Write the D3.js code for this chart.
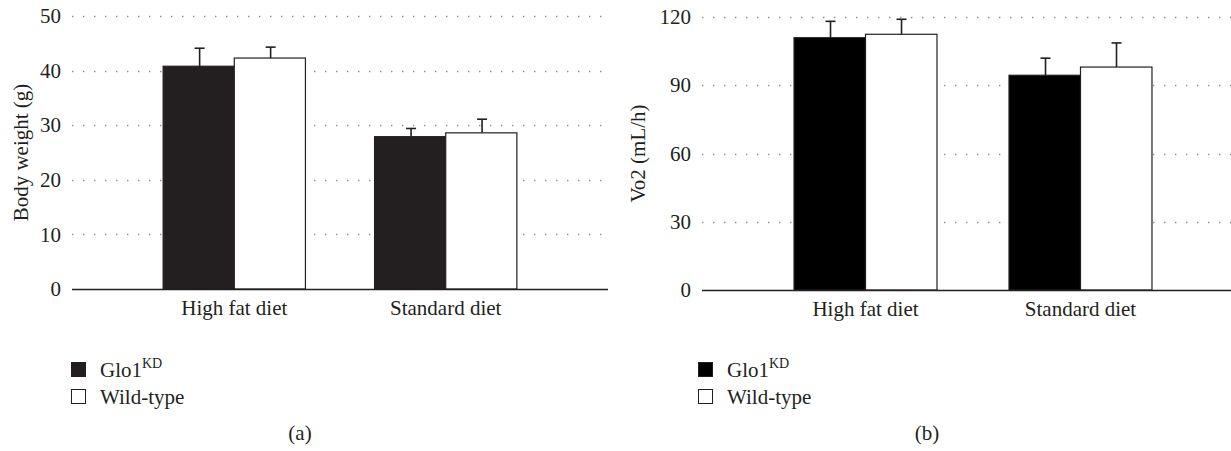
<!DOCTYPE html>
<html>
<head>
<meta charset="utf-8">
<script src="https://cdn.jsdelivr.net/npm/d3@7"></script>
<style>
  body { margin: 0; background: #fff; }
  svg { display: block; }
  text { font-family: "Liberation Serif", "DejaVu Serif", serif; fill: #231f20; }
</style>
</head>
<body>
<svg id="chart" width="1231" height="451"></svg>
<script>
// ---- data ----
const categories = ['High fat diet', 'Standard diet']
const groups = ['Glo1KD', 'Wild-type']

// (a) body weight, g
const weightGlo1 = [40.8, 27.9]
const weightGlo1Err = [3.3, 1.5]
const weightWT = [42.3, 28.6]
const weightWTErr = [2.0, 2.5]
const weightTicks = [0, 10, 20, 30, 40, 50]

// (b) VO2, mL/h
const vo2Glo1 = [110.9, 94.4]
const vo2Glo1Err = [7.2, 7.5]
const vo2WT = [112.4, 98.0]
const vo2WTErr = [6.6, 10.6]
const vo2Ticks = [0, 30, 60, 90, 120]

const FONT = 21
const svg = d3.select('#chart')

function drawPanel(opts) {
    const { x0, x1, yZero, yTop, max, ticks, values, errors, title, fill, letter, legendX, captionX } = opts

    const g = svg.append('g')

    const x = d3.scaleBand()
        .domain(categories)
        .range([x0, x1])
        .paddingInner(opts.padIn)
        .paddingOuter(opts.padOut)

    const xSub = d3.scaleBand()
        .domain(groups)
        .range([0, x.bandwidth()])

    const y = d3.scaleLinear()
        .domain([0, max])
        .range([yZero, yTop])

    const colors = { 'Glo1KD': fill, 'Wild-type': '#ffffff' }

    // dotted grid
    g.append('g')
        .selectAll('line')
        .data(ticks.filter(t => t > 0))
        .join('line')
        .attr('x1', x0)
        .attr('x2', x1)
        .attr('y1', d => Math.round(y(d)) + 0.5)
        .attr('y2', d => Math.round(y(d)) + 0.5)
        .attr('stroke', '#8f8f8f')
        .attr('stroke-width', 1.4)
        .attr('stroke-dasharray', '1.4,9.6')

    // y axis (labels only, no line)
    const yAxis = d3.axisLeft(y).tickValues(ticks).tickSize(0).tickPadding(11)
    const ya = g.append('g')
        .attr('transform', `translate(${x0}, 0)`)
        .call(yAxis)
    ya.select('.domain').remove()
    ya.selectAll('text')
        .style('font-family', '"Liberation Serif", serif')
        .style('font-size', FONT + 'px')
        .attr('fill', '#231f20')

    // bars
    const rows = categories.map((c, i) => groups.map((k, j) => ({
        cat: c, key: k, v: values[j][i], e: errors[j][i]
    })))

    const cat = g.selectAll('.cat')
        .data(rows)
        .join('g')
        .attr('class', 'cat')
        .attr('transform', (d, i) => `translate(${x(categories[i])}, 0)`)

    // error bars (upper half only)
    cat.selectAll('.err')
        .data(d => d)
        .join('g')
        .attr('class', 'err')
        .each(function (d) {
            const cx = Math.round(xSub(d.key) + xSub.bandwidth() / 2) + 0.5
            const sel = d3.select(this)
            sel.append('line')
                .attr('x1', cx).attr('x2', cx)
                .attr('y1', y(d.v)).attr('y2', y(d.v + d.e))
                .attr('stroke', '#231f20').attr('stroke-width', 1.6)
            sel.append('line')
                .attr('x1', cx - 5).attr('x2', cx + 5)
                .attr('y1', y(d.v + d.e)).attr('y2', y(d.v + d.e))
                .attr('stroke', '#231f20').attr('stroke-width', 1.6)
        })

    cat.selectAll('rect')
        .data(d => d)
        .join('rect')
        .attr('x', d => xSub(d.key))
        .attr('width', xSub.bandwidth())
        .attr('y', d => y(d.v))
        .attr('height', d => yZero - y(d.v))
        .attr('fill', d => colors[d.key])
        .attr('stroke', '#231f20')
        .attr('stroke-width', 1.2)

    // baseline
    g.append('line')
        .attr('x1', x0).attr('x2', x1)
        .attr('y1', yZero + 0.5).attr('y2', yZero + 0.5)
        .attr('stroke', '#231f20')
        .attr('stroke-width', 1.3)

    // category labels
    const xAxis = d3.axisBottom(x).tickSize(0).tickPadding(11)
    const xa = g.append('g')
        .attr('transform', `translate(0, ${yZero})`)
        .call(xAxis)
    xa.select('.domain').remove()
    xa.selectAll('text')
        .style('font-family', '"Liberation Serif", serif')
        .style('font-size', FONT + 'px')
        .attr('fill', '#231f20')

    // y title
    g.append('text')
        .attr('transform', `translate(${opts.titleX}, ${(yZero + yTop) / 2}) rotate(-90)`)
        .attr('text-anchor', 'middle')
        .style('font-size', FONT + 'px')
        .text(title)

    // legend
    const leg = g.append('g')
        .selectAll('g')
        .data(groups)
        .join('g')
        .attr('transform', (d, i) => `translate(${legendX}, ${362 + i * 27})`)

    leg.append('rect')
        .attr('x', 0.5).attr('y', 0.5)
        .attr('width', 14).attr('height', 14)
        .attr('fill', d => colors[d])
        .attr('stroke', '#231f20')
        .attr('stroke-width', 1)

    const lt = leg.append('text')
        .attr('x', 29)
        .attr('y', 15)
        .style('font-size', FONT + 'px')

    lt.filter(d => d === 'Glo1KD').each(function () {
        const t = d3.select(this)
        t.append('tspan').text('Glo1')
        t.append('tspan').attr('dy', -9).style('font-size', '14px').text('KD')
    })
    lt.filter(d => d !== 'Glo1KD').text(d => d)

    // caption
    g.append('text')
        .attr('x', captionX)
        .attr('y', 440)
        .attr('text-anchor', 'middle')
        .style('font-size', FONT + 'px')
        .text(letter)
}

drawPanel({
    x0: 72, x1: 608, yZero: 289, yTop: 16, max: 50,
    padIn: 0.327, padOut: 0.431,
    ticks: weightTicks,
    values: [weightGlo1, weightWT],
    errors: [weightGlo1Err, weightWTErr],
    title: 'Body weight (g)',
    titleX: 28,
    fill: '#231f20',
    letter: '(a)',
    legendX: 71,
    captionX: 300
})

drawPanel({
    x0: 702, x1: 1244, yZero: 290, yTop: 17, max: 120,
    padIn: 0.335, padOut: 0.428,
    ticks: vo2Ticks,
    values: [vo2Glo1, vo2WT],
    errors: [vo2Glo1Err, vo2WTErr],
    title: 'Vo2 (mL/h)',
    titleX: 645,
    fill: '#000000',
    letter: '(b)',
    legendX: 698,
    captionX: 927
})
</script>
</body>
</html>
